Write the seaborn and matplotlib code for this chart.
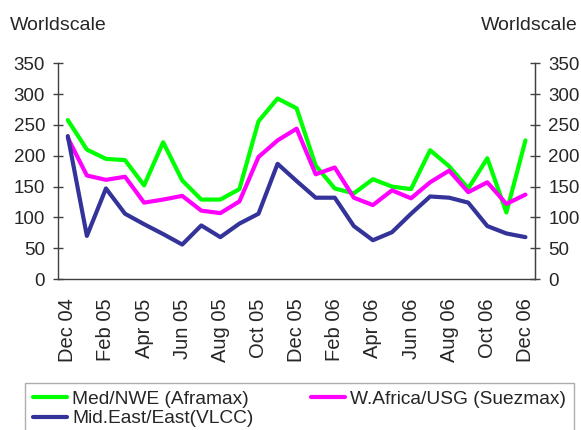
import numpy as np
import pandas as pd
import seaborn as sns
import matplotlib.pyplot as plt
from matplotlib.lines import Line2D

months = ['Dec 04', 'Jan 05', 'Feb 05', 'Mar 05', 'Apr 05', 'May 05', 'Jun 05',
          'Jul 05', 'Aug 05', 'Sep 05', 'Oct 05', 'Nov 05', 'Dec 05', 'Jan 06',
          'Feb 06', 'Mar 06', 'Apr 06', 'May 06', 'Jun 06', 'Jul 06', 'Aug 06',
          'Sep 06', 'Oct 06', 'Nov 06', 'Dec 06']
med_nwe = [258, 210, 195, 193, 152, 222, 160, 129, 129, 146, 256, 293, 277,
           184, 147, 139, 162, 150, 146, 209, 183, 147, 196, 108, 225]
wafrica_usg = [229, 168, 161, 166, 124, 129, 135, 111, 107, 126, 198, 225, 244,
               170, 181, 132, 120, 144, 131, 157, 176, 141, 157, 122, 137]
mideast_east = [232, 70, 147, 106, 89, 73, 56, 87, 68, 90, 106, 187, 159,
                132, 132, 86, 63, 76, 106, 134, 132, 124, 86, 74, 68]
series_names = ['Med/NWE (Aframax)', 'W.Africa/USG (Suezmax)', 'Mid.East/East(VLCC)']
series_colors = ['#00ff00', '#ff00ff', '#333399']

df = pd.DataFrame({'idx': np.arange(len(months)),
                   series_names[0]: med_nwe,
                   series_names[1]: wafrica_usg,
                   series_names[2]: mideast_east})
long = df.melt(id_vars='idx', var_name='route', value_name='ws')

sns.set_style('white')
plt.rcParams['font.family'] = ['Liberation Sans', 'DejaVu Sans']

fig = plt.figure(figsize=(5.81, 4.30), dpi=100)
ax = fig.add_axes([0.1003, 0.351, 0.8205, 0.5017])

sns.lineplot(data=long, x='idx', y='ws', hue='route', palette=series_colors,
             hue_order=series_names, linewidth=3, sort=False, legend=False, ax=ax)

ax.set_xlim(-0.5, len(months) - 0.5)
ax.set_ylim(0, 350)
ax.set_xlabel('')
ax.set_ylabel('')
ax.set_yticks(range(0, 351, 50))
ax.tick_params(axis='y', direction='inout', length=7, width=1, pad=6,
               labelsize=13.5, color='#404040')

# category boundaries as ticks, labels every second month
ax.set_xticks(np.arange(-0.5, len(months), 1))
ax.set_xticklabels([])
ax.set_xticks(np.arange(0, len(months), 2), minor=True)
ax.set_xticklabels(months[::2], minor=True, rotation=90)
ax.tick_params(axis='x', which='major', direction='out', length=4.5, width=1,
               color='#404040')
ax.tick_params(axis='x', which='minor', length=0, pad=14, labelsize=14.5)

for s in ['left', 'bottom', 'right']:
    ax.spines[s].set_color('#404040')
    ax.spines[s].set_linewidth(1)
ax.spines['top'].set_visible(False)

ax2 = ax.twinx()
ax2.set_ylim(0, 350)
ax2.set_yticks(range(0, 351, 50))
ax2.tick_params(axis='y', direction='inout', length=7, width=1, pad=6,
                labelsize=13.5, color='#404040')
for s in ['left', 'top', 'bottom']:
    ax2.spines[s].set_visible(False)
ax2.spines['right'].set_color('#404040')

fig.text(10 / 581, 1 - 25 / 430, 'Worldscale', fontsize=14, va='center', ha='left')
fig.text(578 / 581, 1 - 25 / 430, 'Worldscale', fontsize=14, va='center', ha='right')

handles = [Line2D([], [], color=c, lw=3) for c in series_colors]
order = [0, 2, 1]
leg = fig.legend([handles[i] for i in order], [series_names[i] for i in order],
                 loc='upper left', bbox_to_anchor=(25 / 581, 1 - 383 / 430),
                 ncol=2, fontsize=13.75, frameon=True, fancybox=False,
                 edgecolor='#999999', handlelength=1.8, handletextpad=0.26,
                 labelspacing=0.1, columnspacing=3.0, borderpad=0.4,
                 borderaxespad=0)
leg.get_frame().set_linewidth(1)

fig.savefig('out.png', dpi=100)
